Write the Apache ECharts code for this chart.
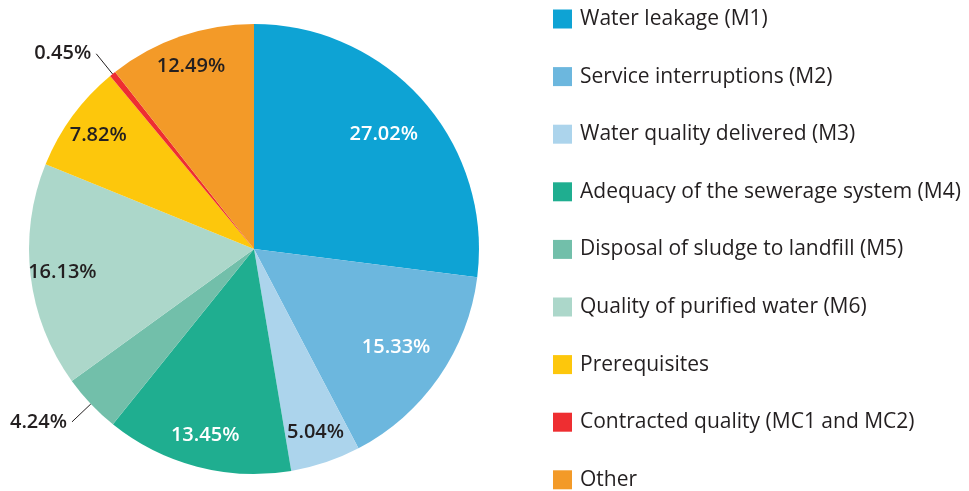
<!DOCTYPE html>
<html><head><meta charset="utf-8">
<script src="https://cdn.jsdelivr.net/npm/echarts@6/dist/echarts.min.js"></script>
<style>html,body{margin:0;padding:0;background:#fff}#c{width:969px;height:491px}</style>
</head><body><div id="c"></div>
<script>
const categories = ["Water leakage (M1)","Service interruptions (M2)","Water quality delivered (M3)","Adequacy of the sewerage system (M4)","Disposal of sludge to landfill (M5)","Quality of purified water (M6)","Prerequisites","Contracted quality (MC1 and MC2)","Other"];
// printed percentages
const labels = ["27.02%","15.33%","5.04%","13.45%","4.24%","16.13%","7.82%","0.45%","12.49%"];
// slice sizes as drawn in the picture (Other slice is drawn smaller than its label)
const values = [27.02,15.33,5.04,13.45,4.24,16.13,7.82,0.45,10.6];
const colors = ["#0ea3d4","#6cb7de","#acd4ec","#1fae90","#72bfaa","#acd7ca","#fdc70c","#ee2e31","#f39a28"];
const labelColors = ["#ffffff","#ffffff","#231f20","#ffffff","#231f20","#231f20","#231f20","#231f20","#231f20"];
const outsideIdx = [4,7];
const nearIdx = [0,1]; // labels drawn closer to the centre
const FONT = "Open Sans";
const chart = echarts.init(document.getElementById('c'));
const baseData = categories.map((n,i)=>({name:n,value:values[i],itemStyle:{color:colors[i]}}));
function labelData(showIdx){
  return categories.map((n,i)=>{
    const show = showIdx(i);
    const out = outsideIdx.includes(i);
    const lbl = {show, position: out?'outside':'inside', color: labelColors[i], overflow:'none'};
    if (i===4) lbl.padding=[28,0,0,0];
    if (i===7) lbl.padding=[0,0,14,0];
    return {name:n,value:values[i],itemStyle:{color:'transparent'},label:lbl,labelLine:{show: show && out}};
  });
}
const labelCommon = {formatter:p=>labels[p.dataIndex],fontFamily:FONT,fontSize:20,fontWeight:600,overflow:'none',edgeDistance:0,bleedMargin:0};
chart.setOption({
  animation:false,
  legend:{orient:'vertical',left:553,top:8.5,height:491,padding:0,itemWidth:19,itemHeight:19,itemGap:36.6,icon:'rect',
    textStyle:{fontFamily:FONT,fontSize:21,color:'#231f20',padding:[0,0,0,3]},
    data:categories, selectedMode:false},
  series:[
    {type:'pie',center:[254,249],radius:[0,225],startAngle:90,clockwise:true,silent:true,
     label:{show:false},labelLine:{show:false},data:baseData},
    {type:'pie',center:[254,249],radius:[115,225],startAngle:90,clockwise:true,silent:true,
     legendHoverLink:false,label:labelCommon,labelLine:{show:false},
     data:labelData(i=>nearIdx.includes(i))},
    {type:'pie',center:[254,249],radius:[155,225],startAngle:90,clockwise:true,silent:true,
     legendHoverLink:false,label:labelCommon,
     labelLine:{length:26,length2:0,lineStyle:{color:'#231f20',width:1}},
     data:labelData(i=>!nearIdx.includes(i))}
  ]
});
</script></body></html>
